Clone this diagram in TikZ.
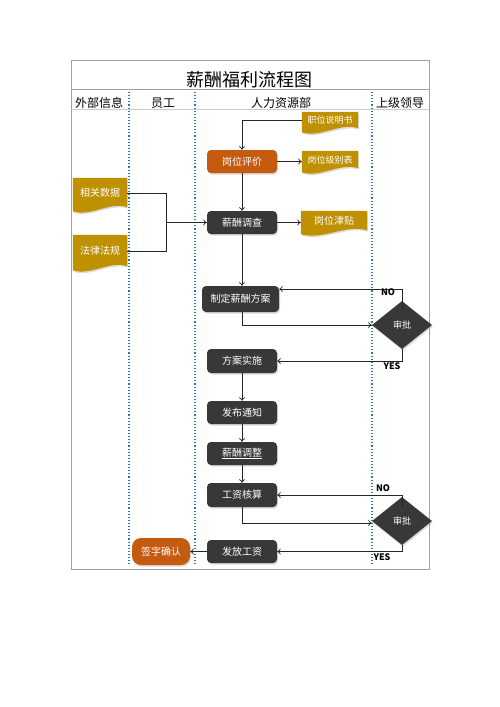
\documentclass[tikz,border=0pt]{standalone}
\usepackage{fontspec}
\setmainfont{Noto Sans CJK SC}
\usetikzlibrary{shapes.geometric,shadows,backgrounds,calc,arrows.meta}
\definecolor{gold}{HTML}{BF9000}
\definecolor{orng}{HTML}{C55A11}
\definecolor{dark}{HTML}{383838}
\definecolor{lane}{HTML}{2E75B6}
\definecolor{framec}{HTML}{A0A0A0}
\newcommand\docwave[1]{%
  \path[docfill] (#1.north west) -- (#1.north east) -- ($(#1.south east)+(0,-1)$)
   .. controls ($(#1.south)+(10,-7)$) and ($(#1.south)+(-10,9)$) .. ($(#1.south west)+(0,3)$) -- cycle;}
\begin{document}
\begin{tikzpicture}[x=1pt,y=-1pt,
  shad/.style={drop shadow={shadow xshift=1pt,shadow yshift=-1.5pt,opacity=0.3}},
  box/.style={rectangle,rounded corners=4pt,fill=dark,text=white,minimum width=70pt,minimum height=23pt,inner sep=0pt,font=\fontsize{10}{12}\selectfont,shad},
  obox/.style={box,fill=orng},
  docnode/.style={rectangle,inner sep=0pt,text=white,font=\fontsize{10}{12}\selectfont},
  smalldoc/.style={docnode,font=\fontsize{9}{11}\selectfont},
  docfill/.style={fill=gold,shad},
  dec/.style={diamond,fill=dark,text=white,minimum width=60pt,minimum height=48pt,inner sep=0pt,font=\fontsize{9}{11}\selectfont,shad},
  ln/.style={line width=0.7pt,draw=black!85},
  arr/.style={ln,-{To[length=3.5pt,width=6pt]}},
  lab/.style={font=\fontsize{9}{11}\selectfont\bfseries,inner sep=0pt},
  hdr/.style={font=\fontsize{12}{14}\selectfont,inner sep=0pt},
  lanel/.style={draw=lane,line width=1.1pt,dotted}
]
\useasboundingbox (0,0) rectangle (500,707);
% frame
\draw[framec,line width=0.8pt] (71,60) rectangle (429,569);
\draw[framec,line width=0.8pt] (71,89) -- (429,89);
\draw[black!20,line width=0.6pt] (71,109) -- (429,109);
\node[font=\fontsize{18}{20}\selectfont,inner sep=0pt] (title) at (249,80) {薪酬福利流程图};
\node[hdr] (h1) at (99,103) {外部信息};
\node[hdr] (h2) at (163,103) {员工};
\node[hdr] (h3) at (281,103) {人力资源部};
\node[hdr] (h4) at (400,103) {上级领导};
\draw[lanel] (129,92) -- (129,564);
\draw[lanel] (195,92) -- (195,564);
\draw[lanel] (372,92) -- (372,564);

% document nodes
\node[smalldoc,minimum width=56pt,minimum height=17pt] (zw) at (330,120.5) {职位说明书};
\node[smalldoc,minimum width=56pt,minimum height=18pt] (gj) at (330,160) {岗位级别表};
\node[docnode,minimum width=66pt,minimum height=20pt] (jt) at (334,221) {岗位津贴};
\node[docnode,minimum width=54pt,minimum height=30pt] (xg) at (100,193) {相关数据};
\node[docnode,minimum width=54pt,minimum height=32pt] (fl) at (100,251) {法律法规};
\begin{pgfonlayer}{background}
\docwave{zw}\docwave{gj}\docwave{jt}\docwave{xg}\docwave{fl}
\end{pgfonlayer}

% process boxes
\node[obox] (gw) at (242,161.5) {岗位评价};
\node[box] (xc) at (242,222.5) {薪酬调查};
\node[box,minimum width=77pt,minimum height=26pt] (fa) at (240.5,299) {制定薪酬方案};
\node[box,minimum height=24pt] (ss) at (242,361) {方案实施};
\node[box] (fb) at (242,412.5) {发布通知};
\node[box] (tz) at (242,453.5) {\underline{薪酬调整}};
\node[box,minimum height=24pt] (gh) at (242,495) {工资核算};
\node[box] (fg) at (242,551.5) {发放工资};
\node[obox,minimum width=58pt,minimum height=27pt,rounded corners=9pt] (qz) at (161,551.5) {签字确认};
\node[dec] (sp1) at (402,325) {审批};
\node[dec] (sp2) at (402,521) {审批};

% connectors
\draw[arr] (zw.west) -| (gw.north);
\draw[arr] (gw.east) -- (gw.east -| gj.west);
\coordinate (m) at (166,0);
\draw[ln] (xg.east) -| (m |- fl.east) -- (fl.east);
\draw[arr] (m |- xc.west) -- (xc.west);
\draw[arr] (gw.south) -- (xc.north);
\draw[arr] (xc.east) -- (xc.east -| jt.west);
\draw[arr] (xc.south) -- (xc.south |- fa.north);
\draw[arr] (fa.south -| xc.south) |- (sp1.west);
\draw[arr] ($(sp1.north)+(0,9)$) |- ($(fa.east)+(0,-10)$);
\draw[arr] (sp1.south) |- (ss.east);
\draw[arr] (ss.south) -- (fb.north);
\draw[arr] (fb.south) -- (tz.north);
\draw[arr] (tz.south) -- (gh.north);
\draw[arr] (gh.south) |- ($(sp2.west)+(0,2)$);
\draw[arr] ($(sp2.north)+(0,10)$) |- (gh.east);
\draw[arr] (sp2.south) |- (fg.east);
\draw[arr] (fg.west) -- (qz.east);

\node[lab] (no1) at (388,292) {NO};
\node[lab] (yes1) at (392,366) {YES};
\node[lab] (no2) at (383,488) {NO};
\node[lab] (yes2) at (382,557) {YES};
\end{tikzpicture}
\end{document}
